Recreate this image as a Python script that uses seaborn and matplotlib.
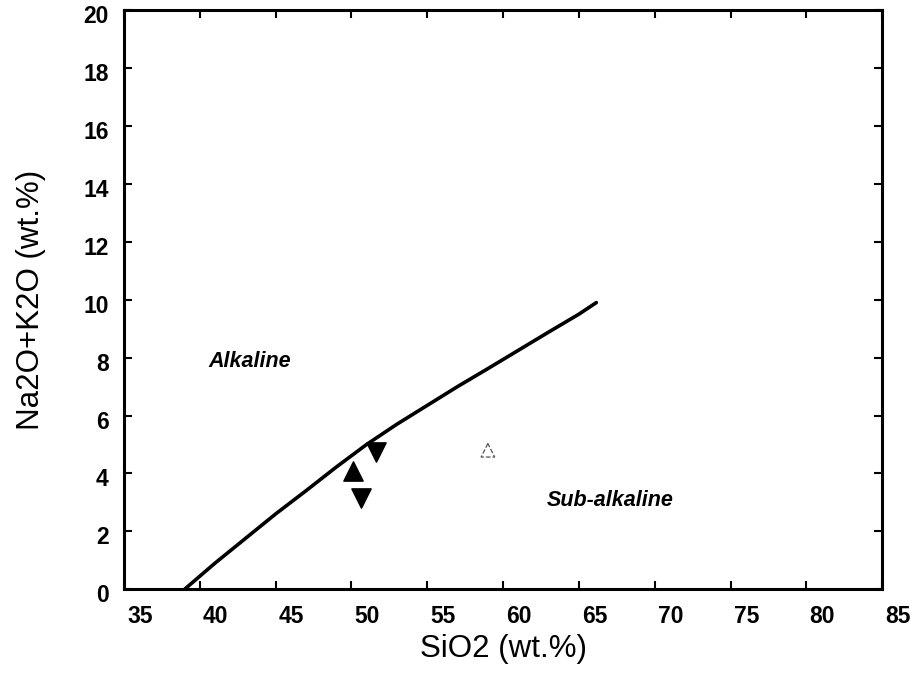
import matplotlib
matplotlib.use("Agg")
import matplotlib.pyplot as plt
import matplotlib.transforms as mtransforms
import seaborn as sns
import pandas as pd

# Alkaline / sub-alkaline divide
divide_sio2 = [39.0, 41.0, 43.0, 45.0, 47.0, 49.0, 51.0, 53.0, 55.0, 57.0, 59.0, 61.0, 63.0, 65.0, 66.15]
divide_alk = [0.0, 0.9, 1.75, 2.6, 3.4, 4.22, 5.0, 5.7, 6.35, 7.0, 7.62, 8.25, 8.88, 9.5, 9.9]

# samples
filled_up_sio2 = [50.1]
filled_up_alk = [4.1]
filled_down_sio2 = [51.6, 50.6]
filled_down_alk = [4.75, 3.15]
open_up_sio2 = [59.0]
open_up_alk = [4.8]

x_ticks = [35, 40, 45, 50, 55, 60, 65, 70, 75, 80, 85]
y_ticks = [0, 2, 4, 6, 8, 10, 12, 14, 16, 18, 20]

sns.set_style("ticks")
plt.rcParams['font.family'] = ['Liberation Sans', 'DejaVu Sans']
plt.rcParams['text.color'] = 'black'
plt.rcParams['axes.labelcolor'] = 'black'
plt.rcParams['xtick.color'] = 'black'
plt.rcParams['ytick.color'] = 'black'

fig = plt.figure(figsize=(9.18, 6.75), dpi=100)
ax = fig.add_axes([0.135, 0.127, 0.826, 0.858])

divide = pd.DataFrame({'SiO2': divide_sio2, 'alk': divide_alk})
sns.lineplot(data=divide, x='SiO2', y='alk', color='black', linewidth=2.6,
             sort=False, estimator=None, ax=ax)

sns.scatterplot(x=filled_up_sio2, y=filled_up_alk, marker='^', s=190,
                color='black', edgecolor='black', ax=ax)
sns.scatterplot(x=filled_down_sio2, y=filled_down_alk, marker='v', s=190,
                color='black', edgecolor='black', ax=ax)
sns.scatterplot(x=open_up_sio2, y=open_up_alk, marker='^', s=95,
                facecolor='none', edgecolor='#555555', linewidth=0.9,
                linestyle='--', ax=ax)

ax.text(43.3, 7.85, 'Alkaline', fontsize=15.5, fontstyle='italic',
        fontweight='bold', ha='center', va='center')
ax.text(67.05, 3.07, 'Sub-alkaline', fontsize=15.5, fontstyle='italic',
        fontweight='bold', ha='center', va='center')

ax.set_xlim(35, 85)
ax.set_ylim(0, 20)
ax.set_xticks(x_ticks)
ax.set_yticks(y_ticks)
ax.tick_params(direction='in', length=6, width=1.5, top=True, right=True,
               labelsize=16.5, pad=11)
for lab in ax.get_xticklabels() + ax.get_yticklabels():
    lab.set_fontweight('bold')
for lab in ax.get_xticklabels():
    lab.set_transform(lab.get_transform() +
                      mtransforms.ScaledTranslation(0.16, 0, fig.dpi_scale_trans))
for lab in ax.get_yticklabels():
    lab.set_transform(lab.get_transform() +
                      mtransforms.ScaledTranslation(0, -0.04, fig.dpi_scale_trans))

for sp in ax.spines.values():
    sp.set_linewidth(2.2)
    sp.set_color('black')

ax.set_xlabel('SiO2 (wt.%)', fontsize=22.5, labelpad=5)
ax.set_ylabel('Na2O+K2O (wt.%)', fontsize=22.5, labelpad=27)

fig.savefig('out.png', dpi=100)
